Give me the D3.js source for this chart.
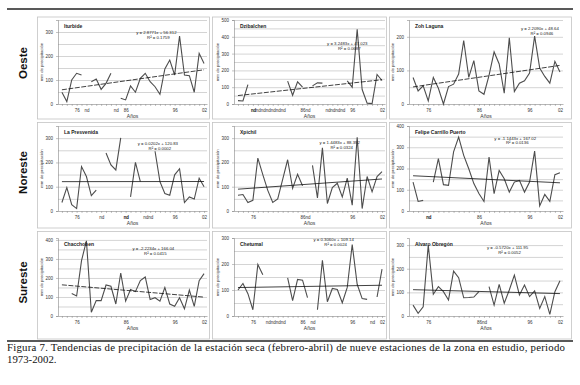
<!DOCTYPE html>
<html><head><meta charset="utf-8">
<script src="https://cdn.jsdelivr.net/npm/d3@7/dist/d3.min.js"></script>
<style>body{margin:0;background:#fff}svg{display:block}</style>
</head><body>
<svg id="fig" width="580" height="385"></svg>
<script>
// precipitation (mm) feb-apr, 1973..2002, null = nd
var years = d3.range(1973, 2003)
var regions = ["Oeste", "Noreste", "Sureste"]
var stations = ["Iturbide", "Dzibalchen", "Zoh Laguna", "La Presvenida", "Xpichil", "Felipe Carrillo Puerto", "Chacchoben", "Chetumal", "Alvaro Obregón"]

var iturbide = [49,10,100,128,121,null,93,104,61,86,128,null,24,17,75,49,107,128,93,72,40,146,183,121,283,121,118,49,211,169]
var dzibalchen = [20,18,115,null,null,null,null,null,null,null,136,52,132,100,null,108,126,124,null,null,null,null,138,100,445,86,5,2,176,140]
var zohLaguna = [79,39,54,9,79,47,0,52,59,89,189,79,129,39,29,85,155,119,32,197,37,62,69,92,202,107,82,62,127,95]
var laPresvenida = [35,96,26,10,183,142,63,86,null,239,190,169,301,null,58,200,121,null,null,246,121,72,65,149,174,35,58,49,135,100]
var xpichil = [65,68,35,44,218,150,85,35,50,130,211,93,151,104,null,188,54,260,31,96,114,58,135,24,304,10,142,79,142,162]
var felipeCarrillo = [136,45,50,null,136,246,124,121,278,348,262,199,129,82,45,254,82,191,152,89,136,144,89,136,282,24,78,45,171,180]
var chacchoben = [null,null,118,105,291,395,20,81,81,163,156,63,226,78,139,128,186,205,87,96,78,150,63,51,96,38,136,51,186,223]
var chetumal = [100,125,86,24,198,159,null,null,null,null,147,59,141,138,71,null,24,214,55,106,102,51,110,275,122,67,64,null,73,180]
var alvaroObregon = [46,11,39,300,92,124,103,68,190,162,77,78,80,103,null,124,46,134,54,110,173,89,131,82,106,32,82,7,103,149]

var series = [iturbide, dzibalchen, zohLaguna, laPresvenida, xpichil, felipeCarrillo, chacchoben, chetumal, alvaroObregon]

// linear trend y = a*x + b (x = 1..30) and R²
var slopes = [2.8771, 3.2483, 2.2090, 0.0202, 1.4483, -1.1443, -2.2234, 0.3060, -0.5720]
var intercepts = [56.312, 47.023, 48.64, 120.83, 88.392, 167.02, 166.04, 109.14, 111.95]
var rSquared = ["0.1759", "0.0687", "0.0946", "0.0002", "0.0324", "0.0136", "0.0415", "0.0024", "0.0052"]

var yMax = [350, 500, 250, 350, 350, 400, 410, 300, 330]
var labelYears = [1976, 1986, 1996, 2002]

// layout
var svg = d3.select("#fig")
var colX = [[36, 211], [211, 388], [388, 573]]
var rowY = [[10, 120], [120, 229], [229, 340]]
var plotX = [[58, 207], [234, 385], [409, 563]]
var plotY = [[20, 104], [126, 211], [238, 316]]
var eqAnchor = [[0.66, 0.17], [0.75, 0.30], [0.85, 0.12], [0.67, 0.22], [0.70, 0.21], [0.69, 0.16], [0.64, 0.15], [0.66, 0.04], [0.64, 0.14]]
var dashedTrend = [true, true, true, false, false, false, true, false, false]
var font = "Liberation Sans, Arial, sans-serif"

// table rules
svg.append("line").attr("x1", 7).attr("x2", 573).attr("y1", 9).attr("y2", 9)
  .attr("stroke", "#222").attr("stroke-width", 1.6)
svg.append("line").attr("x1", 7).attr("x2", 573).attr("y1", 341).attr("y2", 341)
  .attr("stroke", "#222").attr("stroke-width", 1.6)

regions.forEach(function(name, r){
  var cy = (rowY[r][0] + rowY[r][1]) / 2
  svg.append("text")
    .attr("transform", "translate(27," + (cy - 2) + ") rotate(-90)")
    .attr("text-anchor", "middle")
    .attr("font-family", font).attr("font-weight", "bold").attr("font-size", 11.5)
    .attr("fill", "#111")
    .text(name)
})

stations.forEach(function(name, i){
  var r = Math.floor(i / 3), c = i % 3
  var data = series[i]
  var x0 = plotX[c][0], x1 = plotX[c][1], y0 = plotY[r][1], y1 = plotY[r][0]

  // chart box
  svg.append("rect")
    .attr("x", colX[c][0] + 1.5).attr("y", rowY[r][0] + (r == 0 ? 7 : 2.5))
    .attr("width", colX[c][1] - colX[c][0] - 3)
    .attr("height", rowY[r][1] - rowY[r][0] - (r == 0 ? 8 : 3.5))
    .attr("fill", "#fff").attr("stroke", "#c4c4c4").attr("stroke-width", 0.8)

  var xScale = d3.scaleLinear().domain([1972.2, 2002.6]).range([x0, x1])
  var yScale = d3.scaleLinear().domain([0, yMax[i]]).range([y0, y1])

  var g = svg.append("g").attr("class", "panel")

  // gridlines
  g.append("g")
    .attr("transform", "translate(" + x0 + ",0)")
    .call(d3.axisLeft(yScale).tickValues(d3.range(50, yMax[i] + 1, 50)).tickSize(-(x1 - x0)).tickFormat(""))
    .call(function(s){
      s.select(".domain").remove()
      s.selectAll("line").attr("stroke", "#a8a8a8").attr("stroke-width", 0.5)
    })

  // y axis
  g.append("g")
    .attr("transform", "translate(" + x0 + ",0)")
    .call(d3.axisLeft(yScale).tickValues(d3.range(0, yMax[i] + 1, 100)).tickSize(2).tickPadding(3))
    .call(function(s){
      s.select(".domain").attr("stroke", "#888").attr("stroke-width", 0.6)
      s.selectAll("line").attr("stroke", "#888").attr("stroke-width", 0.5)
      s.selectAll("text").attr("font-family", font).attr("font-size", 4.5).attr("fill", "#333")
    })

  // x axis with yearly ticks
  g.append("g")
    .attr("transform", "translate(0," + y0 + ")")
    .call(d3.axisBottom(xScale).tickValues(years).tickSize(2).tickSizeOuter(0).tickFormat(""))
    .call(function(s){
      s.select(".domain").attr("stroke", "#888").attr("stroke-width", 0.6)
      s.selectAll("line").attr("stroke", "#888").attr("stroke-width", 0.5)
    })

  // category labels: decade years and "nd" for missing years
  var first = data.findIndex(function(v){ return v != null })
  var ndYears = years.filter(function(yr, k){ return data[k] == null && k > first })
  g.append("g")
    .attr("transform", "translate(0," + y0 + ")")
    .call(d3.axisBottom(xScale).tickValues(labelYears.concat(ndYears)).tickSize(0).tickPadding(5)
      .tickFormat(function(yr){ return data[yr - 1973] == null ? "nd" : String(yr).slice(2) }))
    .call(function(s){
      s.select(".domain").remove()
      s.selectAll("text").attr("font-family", font).attr("font-size", 4.5).attr("fill", "#333")
    })

  // axis titles
  g.append("text")
    .attr("x", (x0 + x1) / 2).attr("y", y0 + 14)
    .attr("text-anchor", "middle")
    .attr("font-family", font).attr("font-size", 5).attr("fill", "#333")
    .text("Años")
  g.append("text")
    .attr("transform", "translate(" + (x0 - 15) + "," + ((y0 + y1) / 2) + ") rotate(-90)")
    .attr("text-anchor", "middle")
    .attr("font-family", font).attr("font-size", 4.3).attr("fill", "#333")
    .text("mm de precipitación")

  // data line, broken at missing years
  var line = d3.line()
    .defined(function(d){ return d.v != null })
    .x(function(d){ return xScale(d.year) })
    .y(function(d){ return yScale(d.v) })
  g.append("path")
    .datum(years.map(function(yr, k){ return {year: yr, v: data[k]} }))
    .attr("d", line)
    .attr("fill", "none").attr("stroke", "#4d4d4d").attr("stroke-width", 1.1)

  // trend line
  var trend = [1973, 2002].map(function(yr){ return {year: yr, v: slopes[i] * (yr - 1972) + intercepts[i]} })
  g.append("path")
    .datum(trend)
    .attr("d", line)
    .attr("fill", "none").attr("stroke", "#111").attr("stroke-width", 0.8)
    .attr("stroke-dasharray", dashedTrend[i] ? "5,1.5" : null)

  // title
  g.append("text")
    .attr("x", x0 + 6).attr("y", y1 + 8)
    .attr("font-family", font).attr("font-weight", "bold").attr("font-size", 5).attr("fill", "#222")
    .text(name)

  // equation
  var ex = x0 + eqAnchor[i][0] * (x1 - x0), ey = y1 + eqAnchor[i][1] * (y0 - y1)
  var sign = intercepts[i] < 0 ? " - " : " + "
  g.append("text")
    .attr("x", ex).attr("y", ey)
    .attr("text-anchor", "middle")
    .attr("font-family", font).attr("font-size", 4.3).attr("fill", "#222")
    .text("y = " + slopes[i].toFixed(4) + "x" + sign + intercepts[i])
  g.append("text")
    .attr("x", ex + 2).attr("y", ey + 4.8)
    .attr("text-anchor", "middle")
    .attr("font-family", font).attr("font-size", 4.3).attr("fill", "#222")
    .text("R² = " + rSquared[i])
})

// caption
var serif = "Liberation Serif, Times New Roman, serif"
svg.append("text")
  .attr("x", 7).attr("y", 351)
  .attr("font-family", serif).attr("font-size", 10.8).attr("fill", "#111")
  .attr("textLength", 558).attr("lengthAdjust", "spacing")
  .text("Figura 7. Tendencias de precipitación de la estación seca (febrero-abril) de nueve estaciones de la zona en estudio, periodo")
svg.append("text")
  .attr("x", 7).attr("y", 362.5)
  .attr("font-family", serif).attr("font-size", 10.8).attr("fill", "#111")
  .text("1973-2002.")
</script>
</body></html>
